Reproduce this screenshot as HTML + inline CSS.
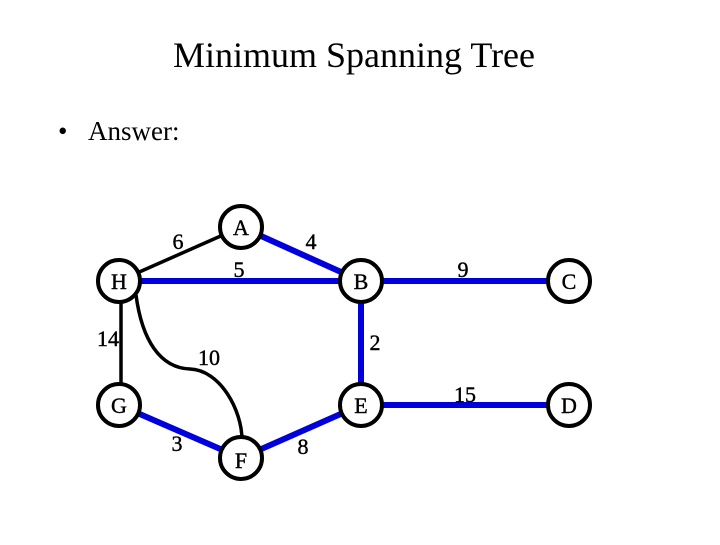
<!DOCTYPE html>
<html><head><style>
body{margin:0;width:720px;height:540px;background:#fff;overflow:hidden}
</style></head><body>
<svg width="720" height="540" xmlns="http://www.w3.org/2000/svg" font-family="Liberation Serif, serif">
<text x="354" y="67" font-size="36" text-anchor="middle">Minimum Spanning Tree</text>
<text x="58" y="140" font-size="27">•</text>
<text x="88" y="140" font-size="27">Answer:</text>
<g stroke-width="6" fill="none">
<line x1="119" y1="281" x2="361" y2="281" stroke="#0000dd"/>
<line x1="241" y1="227" x2="361" y2="281" stroke="#0000dd"/>
<line x1="361" y1="281" x2="569" y2="281" stroke="#0000dd"/>
<line x1="361" y1="281" x2="361" y2="405" stroke="#0000dd"/>
<line x1="361" y1="405" x2="569" y2="405" stroke="#0000dd"/>
<line x1="119" y1="405" x2="241" y2="458" stroke="#0000dd"/>
<line x1="241" y1="458" x2="361" y2="405" stroke="#0000dd"/>
</g>
<g stroke="#000" stroke-width="3.5" fill="none">
<line x1="119" y1="281" x2="241" y2="227"/>
<line x1="121" y1="281" x2="121" y2="405"/>
<path d="M136 295 C142 340 160 368 190 369 C220 370 242 410 242 440"/>
</g>
<g stroke="#000" stroke-width="4" fill="#fff">
<circle cx="241" cy="227" r="21"/>
<circle cx="119" cy="281" r="21"/>
<circle cx="361" cy="281" r="21"/>
<circle cx="569" cy="281" r="21"/>
<circle cx="119" cy="405" r="21"/>
<circle cx="361" cy="405" r="21"/>
<circle cx="569" cy="405" r="21"/>
<circle cx="241" cy="458" r="21"/>
</g>
<g font-size="22" text-anchor="middle" stroke="#000" stroke-width="0.4">
<text x="241" y="235">A</text>
<text x="119" y="289">H</text>
<text x="361" y="289">B</text>
<text x="569" y="289">C</text>
<text x="119" y="413">G</text>
<text x="361" y="413">E</text>
<text x="569" y="413">D</text>
<text x="241" y="468">F</text>
<text x="178" y="249">6</text>
<text x="311" y="249">4</text>
<text x="239" y="277">5</text>
<text x="463" y="277">9</text>
<text x="108" y="346">14</text>
<text x="375" y="350">2</text>
<text x="209" y="365">10</text>
<text x="465" y="402">15</text>
<text x="177" y="451">3</text>
<text x="303" y="454">8</text>
</g>
</svg>
</body></html>
